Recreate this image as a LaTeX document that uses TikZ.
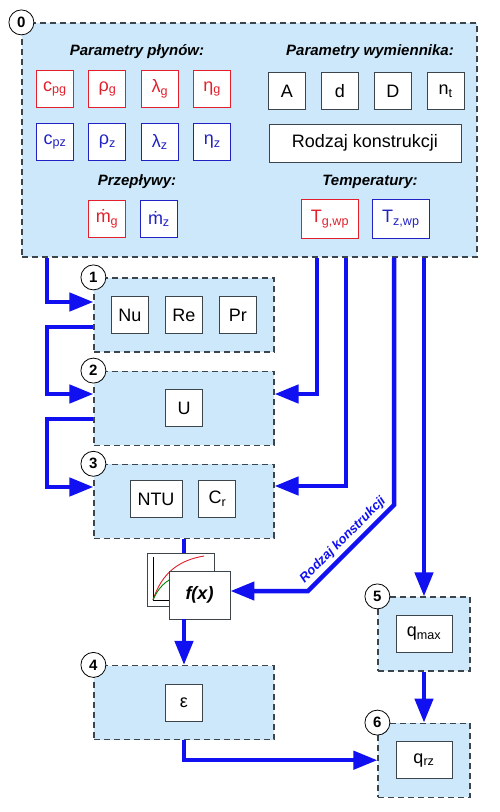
\documentclass[tikz,border=0pt]{standalone}
\usepackage{fontspec}
\setmainfont{Liberation Sans}
\usetikzlibrary{positioning,arrows.meta}
\definecolor{skyfill}{RGB}{204,232,250}
\definecolor{frame}{RGB}{60,68,76}
\definecolor{redval}{RGB}{226,32,44}
\definecolor{blueval}{RGB}{34,34,196}
\definecolor{flowblue}{RGB}{16,16,240}
\tikzset{
	group box/.style = {draw=frame, fill=skyfill, line width=1.2pt, dash pattern=on 6pt off 4pt, inner sep=0pt}, % dashed panels
	val box/.style = {draw=frame, fill=white, line width=0.9pt, minimum width=37pt, minimum height=37pt, inner sep=1pt, font=\fontsize{18}{20}\selectfont},
	red box/.style = {val box, draw=redval, text=redval},
	blue box/.style = {val box, draw=blueval, text=blueval},
	num/.style = {circle, draw=black, fill=white, line width=0.8pt, minimum size=25pt, inner sep=0pt, font=\fontsize{15}{15}\selectfont\bfseries},
	head/.style = {font=\fontsize{15}{17}\selectfont\bfseries\itshape},
	flow/.style = {draw=flowblue, line width=4.5pt, -{Triangle[length=24pt,width=18pt]}} % thick blue connectors
}

\begin{document}
\begin{tikzpicture}[x=1pt, y=-1pt]
	\useasboundingbox (0,0) rectangle (500,812);
	% panels
	\node[group box, minimum width=455pt, minimum height=234pt] (b0) at (249.5,140) {};
	\node[group box, minimum width=180pt, minimum height=74pt] (b1) at (184,315) {};
	\node[group box, minimum width=180pt, minimum height=74pt, below=18pt of b1] (b2) {};
	\node[group box, minimum width=180pt, minimum height=74pt, below=18pt of b2] (b3) {};
	\node[group box, minimum width=180pt, minimum height=74pt] (b4) at (184,702.5) {};
	\node[group box, minimum width=92pt, minimum height=74pt] (b5) at (424,634) {};
	\node[group box, minimum width=92pt, minimum height=74pt, below=51pt of b5] (b6) {};
	\node[num] (n0) at (b0.north west) {0};
	\node[num] (n1) at (b1.north west) {1};
	\node[num] (n2) at (b2.north west) {2};
	\node[num] (n3) at (b3.north west) {3};
	\node[num] (n4) at (b4.north west) {4};
	\node[num] (n5) at (b5.north west) {5};
	\node[num] (n6) at (b6.north west) {6};
	% panel 0, fluids
	\node[head] (hfl) at (137,52) {Parametry płynów:};
	\node[red box] (cpg) at (55,89) {c\textsubscript{pg}};
	\node[red box, right=14.5pt of cpg] (rhog) {ρ\textsubscript{g}};
	\node[red box, right=14.5pt of rhog] (lamg) {λ\textsubscript{g}};
	\node[red box, right=14.5pt of lamg] (etag) {η\textsubscript{g}};
	\node[blue box, below=15pt of cpg] (cpz) {c\textsubscript{pz}};
	\node[blue box, right=14.5pt of cpz] (rhoz) {ρ\textsubscript{z}};
	\node[blue box, right=14.5pt of rhoz] (lamz) {λ\textsubscript{z}};
	\node[blue box, right=14.5pt of lamz] (etaz) {η\textsubscript{z}};
	\node[head] (hprz) at (137,182) {Przepływy:};
	\node[red box] (mg) at (107,219) {ṁ\textsubscript{g}};
	\node[blue box, right=14pt of mg] (mz) {ṁ\textsubscript{z}};
	% panel 0, exchanger
	\node[head] (hwym) at (370,52) {Parametry wymiennika:};
	\node[val box] (A) at (287,91) {A};
	\node[val box, right=15pt of A] (d) {d};
	\node[val box, right=15pt of d] (D) {D};
	\node[val box, right=15pt of D] (nt) {n\textsubscript{t}};
	\node[val box, minimum width=192pt, minimum height=38pt] (rk) at (365,143) {Rodzaj konstrukcji};
	\node[head] (htemp) at (370,182) {Temperatury:};
	\node[red box, minimum width=57pt, minimum height=39pt] (Tg) at (330,219) {T\textsubscript{g,wp}};
	\node[blue box, minimum width=57pt, minimum height=39pt, right=13pt of Tg] (Tz) {T\textsubscript{z,wp}};
	% panels 1--6
	\node[val box] (Nu) at (130,315) {Nu};
	\node[val box, right=16pt of Nu] (Re) {Re};
	\node[val box, right=16pt of Re] (Pr) {Pr};
	\node[val box] (U) at (b2) {U};
	\node[val box, minimum width=52pt] (NTU) at (156,499) {NTU};
	\node[val box, right=16pt of NTU] (Cr) {C\textsubscript{r}};
	\node[val box] (eps) at (b4) {ε};
	\node[val box, minimum width=56pt] (qmax) at (b5) {q\textsubscript{max}};
	\node[val box, minimum width=56pt] (qrz) at (b6) {q\textsubscript{rz}};
	% f(x) cards
	\node[val box, minimum width=67pt, minimum height=53pt] (fxb) at (180.5,579.5) {};
	\draw[black, line width=0.9pt] (153,557) -- (153,600) -- (200,600);
	\draw[redval, line width=0.9pt] (153,600) .. controls (162,572) and (180,560) .. (204,556);
	\draw[green!50!black, line width=0.9pt] (153,600) .. controls (158,588) and (166,580) .. (176,577);
	\node[val box, minimum width=61pt, minimum height=48pt, font=\fontsize{18}{20}\selectfont\bfseries\itshape] (fx) at (199.5,595) {f(x)};
	% connectors
	\draw[flow] (b0.south -| 47,0) |- (b1.west |- 0,302);
	\draw[flow] (b1.west |- 0,327) -- (47,327) |- (b2.west |- 0,394);
	\draw[flow] (b2.west |- 0,419) -- (47,419) |- (b3.west |- 0,487);
	\draw[flow] (b0.south -| 317,0) |- (b2.east |- 0,394);
	\draw[flow] (b0.south -| 346,0) |- (b3.east |- 0,486);
	\draw[flow] (b0.south -| 394,0) -- (394,505) -- node[sloped, above, inner sep=3pt, text=flowblue, font=\fontsize{13}{15}\selectfont\bfseries\itshape] (rklab) {Rodzaj konstrukcji} (308,591) -- (fx.east |- 0,591);
	\draw[flow] (b0.south -| b5.north) -- (b5.north);
	\draw[flow, -] (b3.south) -- (b3.south |- fxb.north);
	\draw[flow] (fx.south -| b4.north) -- (b4.north);
	\draw[flow] (b4.south) |- (b6.west);
	\draw[flow] (b5.south) -- (b6.north);
\end{tikzpicture}
\end{document}
